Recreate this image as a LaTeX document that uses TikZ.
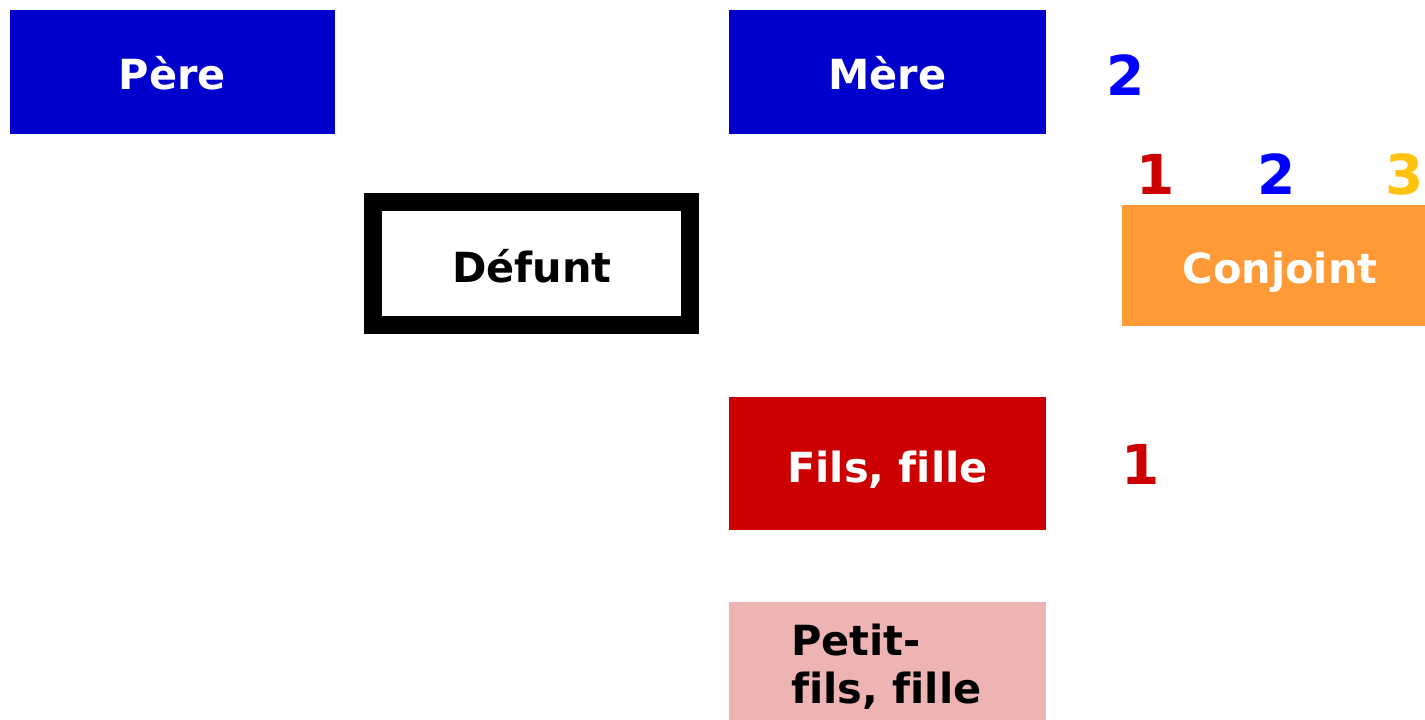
\documentclass[tikz,border=0pt]{standalone}
\usepackage{fontspec}
\setmainfont[Ligatures={NoCommon}]{DejaVu Sans}
\definecolor{boxblue}{HTML}{0000CC}
\definecolor{boxorange}{HTML}{FF9A36}
\definecolor{boxred}{HTML}{CC0000}
\definecolor{boxpink}{HTML}{EEB4B4}
\definecolor{numred}{HTML}{CC0000}
\definecolor{numblue}{HTML}{0000FF}
\definecolor{numgold}{HTML}{FFC20E}
\begin{document}
\begin{tikzpicture}[x=1pt,y=-1pt,
  box/.style={inner sep=0pt,outer sep=0pt},
  lbl/.style={anchor=base,inner sep=0pt,font=\fontsize{41.5}{47}\selectfont\bfseries},
  num/.style={anchor=base,inner sep=0pt,font=\fontsize{55}{60}\selectfont\bfseries}]
\useasboundingbox (0,0) rectangle (1425,720);
% boxes
\path[fill=boxblue] (10,10) rectangle (335,134) node[box,midway] (pere) {};
\path[fill=boxblue] (729,10) rectangle (1046,134) node[box,midway] (mere) {};
\draw[line width=18pt] (373,202) rectangle (690,325) node[box,midway] (defunt) {};
\path[fill=boxorange] (1122,205) rectangle (1425,326) node[box,midway] (conjoint) {};
\path[fill=boxred] (729,397) rectangle (1046,530) node[box,midway] (fils) {};
\path[fill=boxpink] (729,602) rectangle (1046,720) node[box,midway] (petit) {};
% labels
\node[lbl,white] (tpere) at (172.5,89) {Père};
\node[lbl,white] (tmere) at (887.5,89) {Mère};
\node[lbl,black] (tdefunt) at (532,282) {Défunt};
\node[lbl,white] (tconjoint) at (1280,283) {Conjoint};
\node[lbl,white] (tfils) at (887.5,482) {Fils, fille};
\node[lbl,black,anchor=base west] (tpetit1) at (791,655) {Petit-};
\node[lbl,black,anchor=base west] (tpetit2) at (791,703) {fils, fille};
% numbers
\node[num,numblue] (n2m) at (1126,95) {2};
\node[num,numred] (n1c) at (1156,194) {1};
\node[num,numblue] (n2c) at (1277,194) {2};
\node[num,numgold] (n3c) at (1405,194) {3};
\node[num,numred] (n1f) at (1141,484) {1};
\end{tikzpicture}
\end{document}
